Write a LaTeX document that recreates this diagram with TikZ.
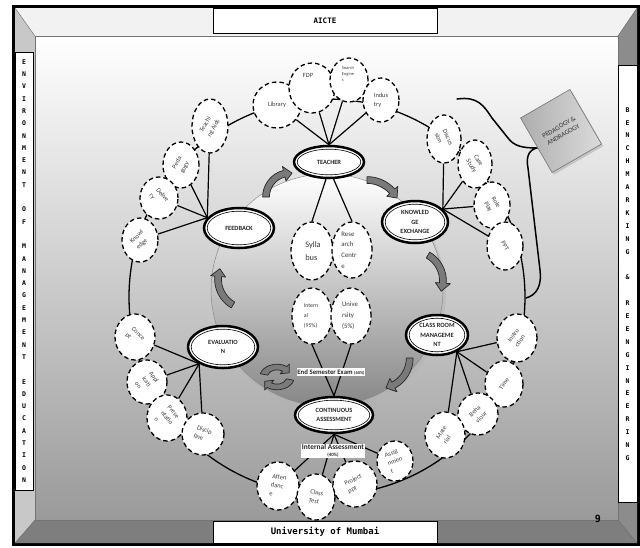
\documentclass[tikz,border=0pt]{standalone}
\usepackage{fontspec}
\setmainfont{Carlito}
\newfontfamily\framefont{DejaVu Sans Mono}
\usetikzlibrary{shapes.geometric,calc,shadows}

\definecolor{bevelTop}{HTML}{F2F2F2}
\definecolor{bevelLeft}{HTML}{C8C8C8}
\definecolor{bevelRight}{HTML}{8C8C8C}
\definecolor{bevelBottom}{HTML}{7E7E7E}
\definecolor{faceLow}{HTML}{9A9A9A}
\definecolor{discMid}{HTML}{D6D6D6}
\definecolor{discLow}{HTML}{878787}
\definecolor{arrowGray}{HTML}{7A7A7A}
\definecolor{bubbleText}{HTML}{3A3A3A}

\tikzset{
  mainring/.style={ellipse, draw=black, line width=2.5pt, fill=white, inner sep=0pt},
  mainline/.style={draw=black, line width=0.6pt},
  maintxt/.style={align=center, inner sep=0pt, text=black!85, font=\bfseries\fontsize{6.4}{9.2}\selectfont},
  bub/.style={ellipse, draw=black, line width=1.3pt, dash pattern=on 4.5pt off 3pt, fill=white, inner sep=0pt},
  btxt/.style={align=left, inner sep=0pt, text=bubbleText, font=\fontsize{6.4}{8.8}\selectfont},
  conn/.style={draw=black, line width=1.2pt},
  cyc/.style={fill=arrowGray, draw=black!85, line width=0.7pt, line join=round},
  framebox/.style={draw=black, line width=0.6pt, fill=white, inner sep=0pt},
  sidetxt/.style={align=center, inner sep=0pt, font=\framefont\bfseries\fontsize{6.5}{12.3}\selectfont},
  tag/.style={fill=white, inner sep=0.8pt, align=center, text=black!85, font=\bfseries\fontsize{6.8}{7.5}\selectfont},
}

% double-ringed main stage: name, x, y, width, height, text
\newcommand\mainellipse[6]{%
  \node[mainring, minimum width=#4, minimum height=#5] (#1) at (#2,#3) {};
  \draw[mainline] (#2,#3) ellipse[x radius=#4/2-3.2, y radius=#5/2-3.2];
  \node[maintxt] (#1-t) at (#2,#3) {#6};}

% dashed satellite bubble: name, x, y, width, height, text angle, text
\newcommand\bubble[7]{%
  \node[bub, minimum width=#4, minimum height=#5] (#1) at (#2,#3) {};
  \node[btxt, rotate=#6] (#1-t) at (#2,#3) {#7};}

% curved block arrow: centre x, centre y, radius, tail, head base, tip angle, half band, half head
\newcommand\bentarrow[8]{%
  \filldraw[cyc] ($(#1,#2)+(#4:#3-#7)$) arc[start angle=#4, end angle=#5, radius=#3-#7]
    -- ($(#1,#2)+(#5:#3-#8)$) -- ($(#1,#2)+(#6:#3)$) -- ($(#1,#2)+(#5:#3+#8)$)
    -- ($(#1,#2)+(#5:#3+#7)$) arc[start angle=#5, end angle=#4, radius=#3+#7] -- cycle;}

\begin{document}
\begin{tikzpicture}[x=1pt,y=-1pt]
\useasboundingbox (0,0) rectangle (640,547);

% ---- bevelled slide frame ----
\fill[black] (12,5) rectangle (640,546);
\fill[bevelTop] (15,8) -- (637,8) -- (618,36) -- (35,36) -- cycle;
\fill[bevelLeft] (15,8) -- (35,36) -- (35,520) -- (15,543) -- cycle;
\fill[bevelRight] (637,8) -- (637,543) -- (618,520) -- (618,36) -- cycle;
\fill[bevelBottom] (15,543) -- (35,520) -- (618,520) -- (637,543) -- cycle;
\shade[top color=white, bottom color=faceLow] (35,36) rectangle (618,520);
\draw[black!55, line width=0.4pt] (15,8) -- (35,36) (637,8) -- (618,36)
  (15,543) -- (35,520) (637,543) -- (618,520);
\draw[black!55, line width=0.4pt] (35,36) rectangle (618,520);

\node[framebox, minimum width=224, minimum height=25,
  font=\framefont\bfseries\fontsize{7.5}{9}\selectfont] (aicte) at (325,21) {AICTE};
\node[framebox, minimum width=224, minimum height=22,
  font=\framefont\bfseries\fontsize{9}{11}\selectfont] (mumbai) at (325,532) {University of Mumbai};
\node[framebox, minimum width=18, minimum height=438] (leftbox) at (24,271) {};
\node[sidetxt] (lefttxt) at (24,271) {E\\N\\V\\I\\R\\O\\N\\M\\E\\N\\T\\~\\O\\F\\~\\M\\A\\N\\A\\G\\E\\M\\E\\N\\T\\~\\E\\D\\U\\C\\A\\T\\I\\O\\N};
\node[framebox, minimum width=19, minimum height=437] (rightbox) at (627.5,283.5) {};
\node[sidetxt, font=\framefont\bfseries\fontsize{6.5}{12.9}\selectfont] (righttxt) at (627.5,284) {B\\E\\N\\C\\H\\M\\A\\R\\K\\I\\N\\G\\~\\\&\\~\\R\\E\\E\\N\\G\\I\\N\\E\\E\\R\\I\\N\\G};
\node[font=\framefont\bfseries\fontsize{10}{12}\selectfont] (pageno) at (598,519) {9};

% ---- outer ring joining the satellites ----
\draw[line width=1.3pt] (327,297) circle[radius=198];

% ---- central disc ----
\fill[black!30, opacity=0.45] (329,293) circle[radius=117];
\shadedraw[top color=white, middle color=discMid, bottom color=discLow, draw=black!45, line width=0.5pt]
  (327,290) circle[radius=116];

% ---- cycle arrows between the stages ----
\bentarrow{290}{197}{24}{180}{256}{275}{3.4}{7.5}
\bentarrow{367}{214}{34}{270}{318}{332}{3.4}{7.5}
\bentarrow{413}{281}{30}{300}{364}{380}{3.4}{7.5}
\bentarrow{379}{358}{30.75}{0}{62}{77}{3.4}{7.5}
\bentarrow{248}{279}{30}{120}{185}{200}{3.4}{7.5}
\begin{scope}[shift={(277,377)}, xscale=1.35]
  \bentarrow{0}{0}{10}{195}{305}{335}{2.8}{6}
  \bentarrow{0}{0}{10}{15}{125}{155}{2.8}{6}
\end{scope}

% ---- PEDAGOGY & ANDRAGOGY tag and brace ----
\draw[line width=1.5pt, line cap=round]
  (457,99) .. controls (478,96) and (484,106) .. (492,118) -- (508,138)
  .. controls (514,146) and (522,148) .. (537,148)
  .. controls (528,150) and (526,158) .. (528,168) -- (540,270)
  .. controls (542,285) and (537,295) .. (526,298);
\node[draw=black!55, line width=0.6pt, left color=black!32, right color=black!14, rotate=30,
  minimum width=57, minimum height=63, inner sep=1pt, align=center, text=black!80,
  font=\fontsize{6.8}{8.8}\selectfont,
  drop shadow={shadow xshift=2pt, shadow yshift=-2pt, fill=black!35}] (ped) at (561,131) {PEDAGOGY \&\\ANDRAGOGY};

% ---- main stages ----
\mainellipse{teacher}{329}{162}{70}{32}{TEACHER}
\mainellipse{ke}{415}{222}{66}{42}{KNOWLED\\GE\\EXCHANGE}
\mainellipse{fb}{239}{228}{70}{40}{FEEDBACK}
\mainellipse{eval}{223}{347}{70}{42}{EVALUATIO\\N}
\mainellipse{crm}{437}{335}{62}{40}{CLASS ROOM\\MANAGEME\\NT}
\mainellipse{ca}{334}{415}{78}{36}{CONTINUOUS\\ASSESSMENT}

% ---- satellites of TEACHER ----
\bubble{lib}{277}{105}{48}{46}{0}{Library}
\node[bub, minimum width=46, minimum height=50] (fdp) at (312,88) {};
\node[btxt] (fdp-t) at (308,75) {FDP};
\node[bub, minimum width=38, minimum height=44] (srch) at (349,80) {};
\node[btxt, font=\fontsize{4.4}{6.4}\selectfont] (srch-t) at (348,74) {Search\\Engine\\s};
\bubble{ind}{381}{100}{36}{44}{0}{Indus\\try}

% ---- satellites of FEEDBACK ----
\bubble{tch}{210}{126}{36}{54}{60}{Teachi\\ng Aids}
\bubble{ped2}{181}{165}{36}{46}{60}{Peda\\gogy}
\bubble{del}{159}{198}{38}{42}{-50}{Delive\\ry}
\bubble{knw}{140}{240}{36}{44}{45}{Knowl\\edge}

% ---- satellites of KNOWLEDGE EXCHANGE ----
\bubble{disc}{444}{139}{34}{48}{-65}{Discus\\sion}
\bubble{case}{475}{164}{34}{48}{-60}{Case\\Study}
\bubble{role}{492}{205}{36}{46}{-60}{Role\\Play}
\bubble{ppt}{505}{246}{36}{48}{-60}{PPT}

% ---- satellites of EVALUATION ----
\bubble{conc}{135}{337}{40}{46}{-45}{Conce\\pt}
\bubble{appl}{147}{382}{40}{44}{-55}{Appl\\icati\\on}
\bubble{pres}{167}{418}{40}{46}{-50}{Prese\\ntatio\\n}
\bubble{dscp}{203}{434}{42}{42}{-20}{Discip\\line}

% ---- satellites of CLASS ROOM MANAGEMENT ----
\bubble{inst}{517}{338}{40}{48}{55}{Instru\\ction}
\bubble{time}{504}{384}{38}{46}{55}{Time}
\bubble{beh}{478}{414}{40}{42}{45}{Beha\\viour}
\bubble{mat}{445}{435}{40}{46}{55}{Mate\\rial}

% ---- satellites of CONTINUOUS ASSESSMENT ----
\bubble{att}{278}{486}{42}{48}{-10}{Atten\\danc\\e}
\bubble{clt}{316}{497}{38}{46}{-10}{Class\\Test}
\bubble{prj}{355}{484}{44}{46}{25}{Project\\ppt}
\bubble{asg}{395}{461}{36}{40}{20}{Assig\\nmen\\t}

% ---- inner bubbles on the disc ----
\node[bub, minimum width=42, minimum height=58] (syl) at (312,251) {};
\node[btxt, font=\fontsize{8.4}{13}\selectfont] (syl-t) at (313,251) {Sylla\\bus};
\node[bub, minimum width=40, minimum height=56] (rsc) at (352,250) {};
\node[btxt, font=\fontsize{6.8}{10.7}\selectfont] (rsc-t) at (349,250) {Rese\\arch\\Centr\\e};
\node[bub, minimum width=40, minimum height=56] (int) at (312,316) {};
\node[btxt, font=\fontsize{5.8}{10}\selectfont] (int-t) at (311,316) {Intern\\al\\(95\%)};
\node[bub, minimum width=40, minimum height=56] (uni) at (351,316) {};
\node[btxt, font=\fontsize{6.8}{11}\selectfont] (uni-t) at (350,316) {Unive\\rsity\\(5\%)};

% ---- connectors ----
\foreach \b in {lib,fdp,srch,ind} \draw[conn] (teacher.north) -- (\b);
\draw[conn] (teacher.260) -- (syl.north);
\draw[conn] (teacher.285) -- (rsc.north);
\foreach \b in {tch,ped2,del,knw} \draw[conn] (fb.162) -- (\b);
\foreach \b in {disc,case,role,ppt} \draw[conn] (ke.25) -- (\b);
\foreach \b in {conc,appl,pres,dscp} \draw[conn] (eval.215) -- (\b);
\foreach \b in {inst,time,beh,mat} \draw[conn] (crm.-40) -- (\b);
\foreach \b in {att,clt,prj,asg} \draw[conn] (ca.south) -- (\b);
\draw[conn] (int.south) -- (ca.north);
\draw[conn] (uni.south) -- (ca.north);

% ---- weight tags ----
\node[tag] (ese) at (331,372) {End Semester Exam {\fontsize{4.4}{5}\selectfont(60\%)}};
\node[tag, font=\bfseries\fontsize{7.4}{8}\selectfont] (ia) at (333,451) {Internal Assessment\\[-1pt]{\fontsize{4.8}{5}\selectfont(40\%)}};

\end{tikzpicture}
\end{document}
